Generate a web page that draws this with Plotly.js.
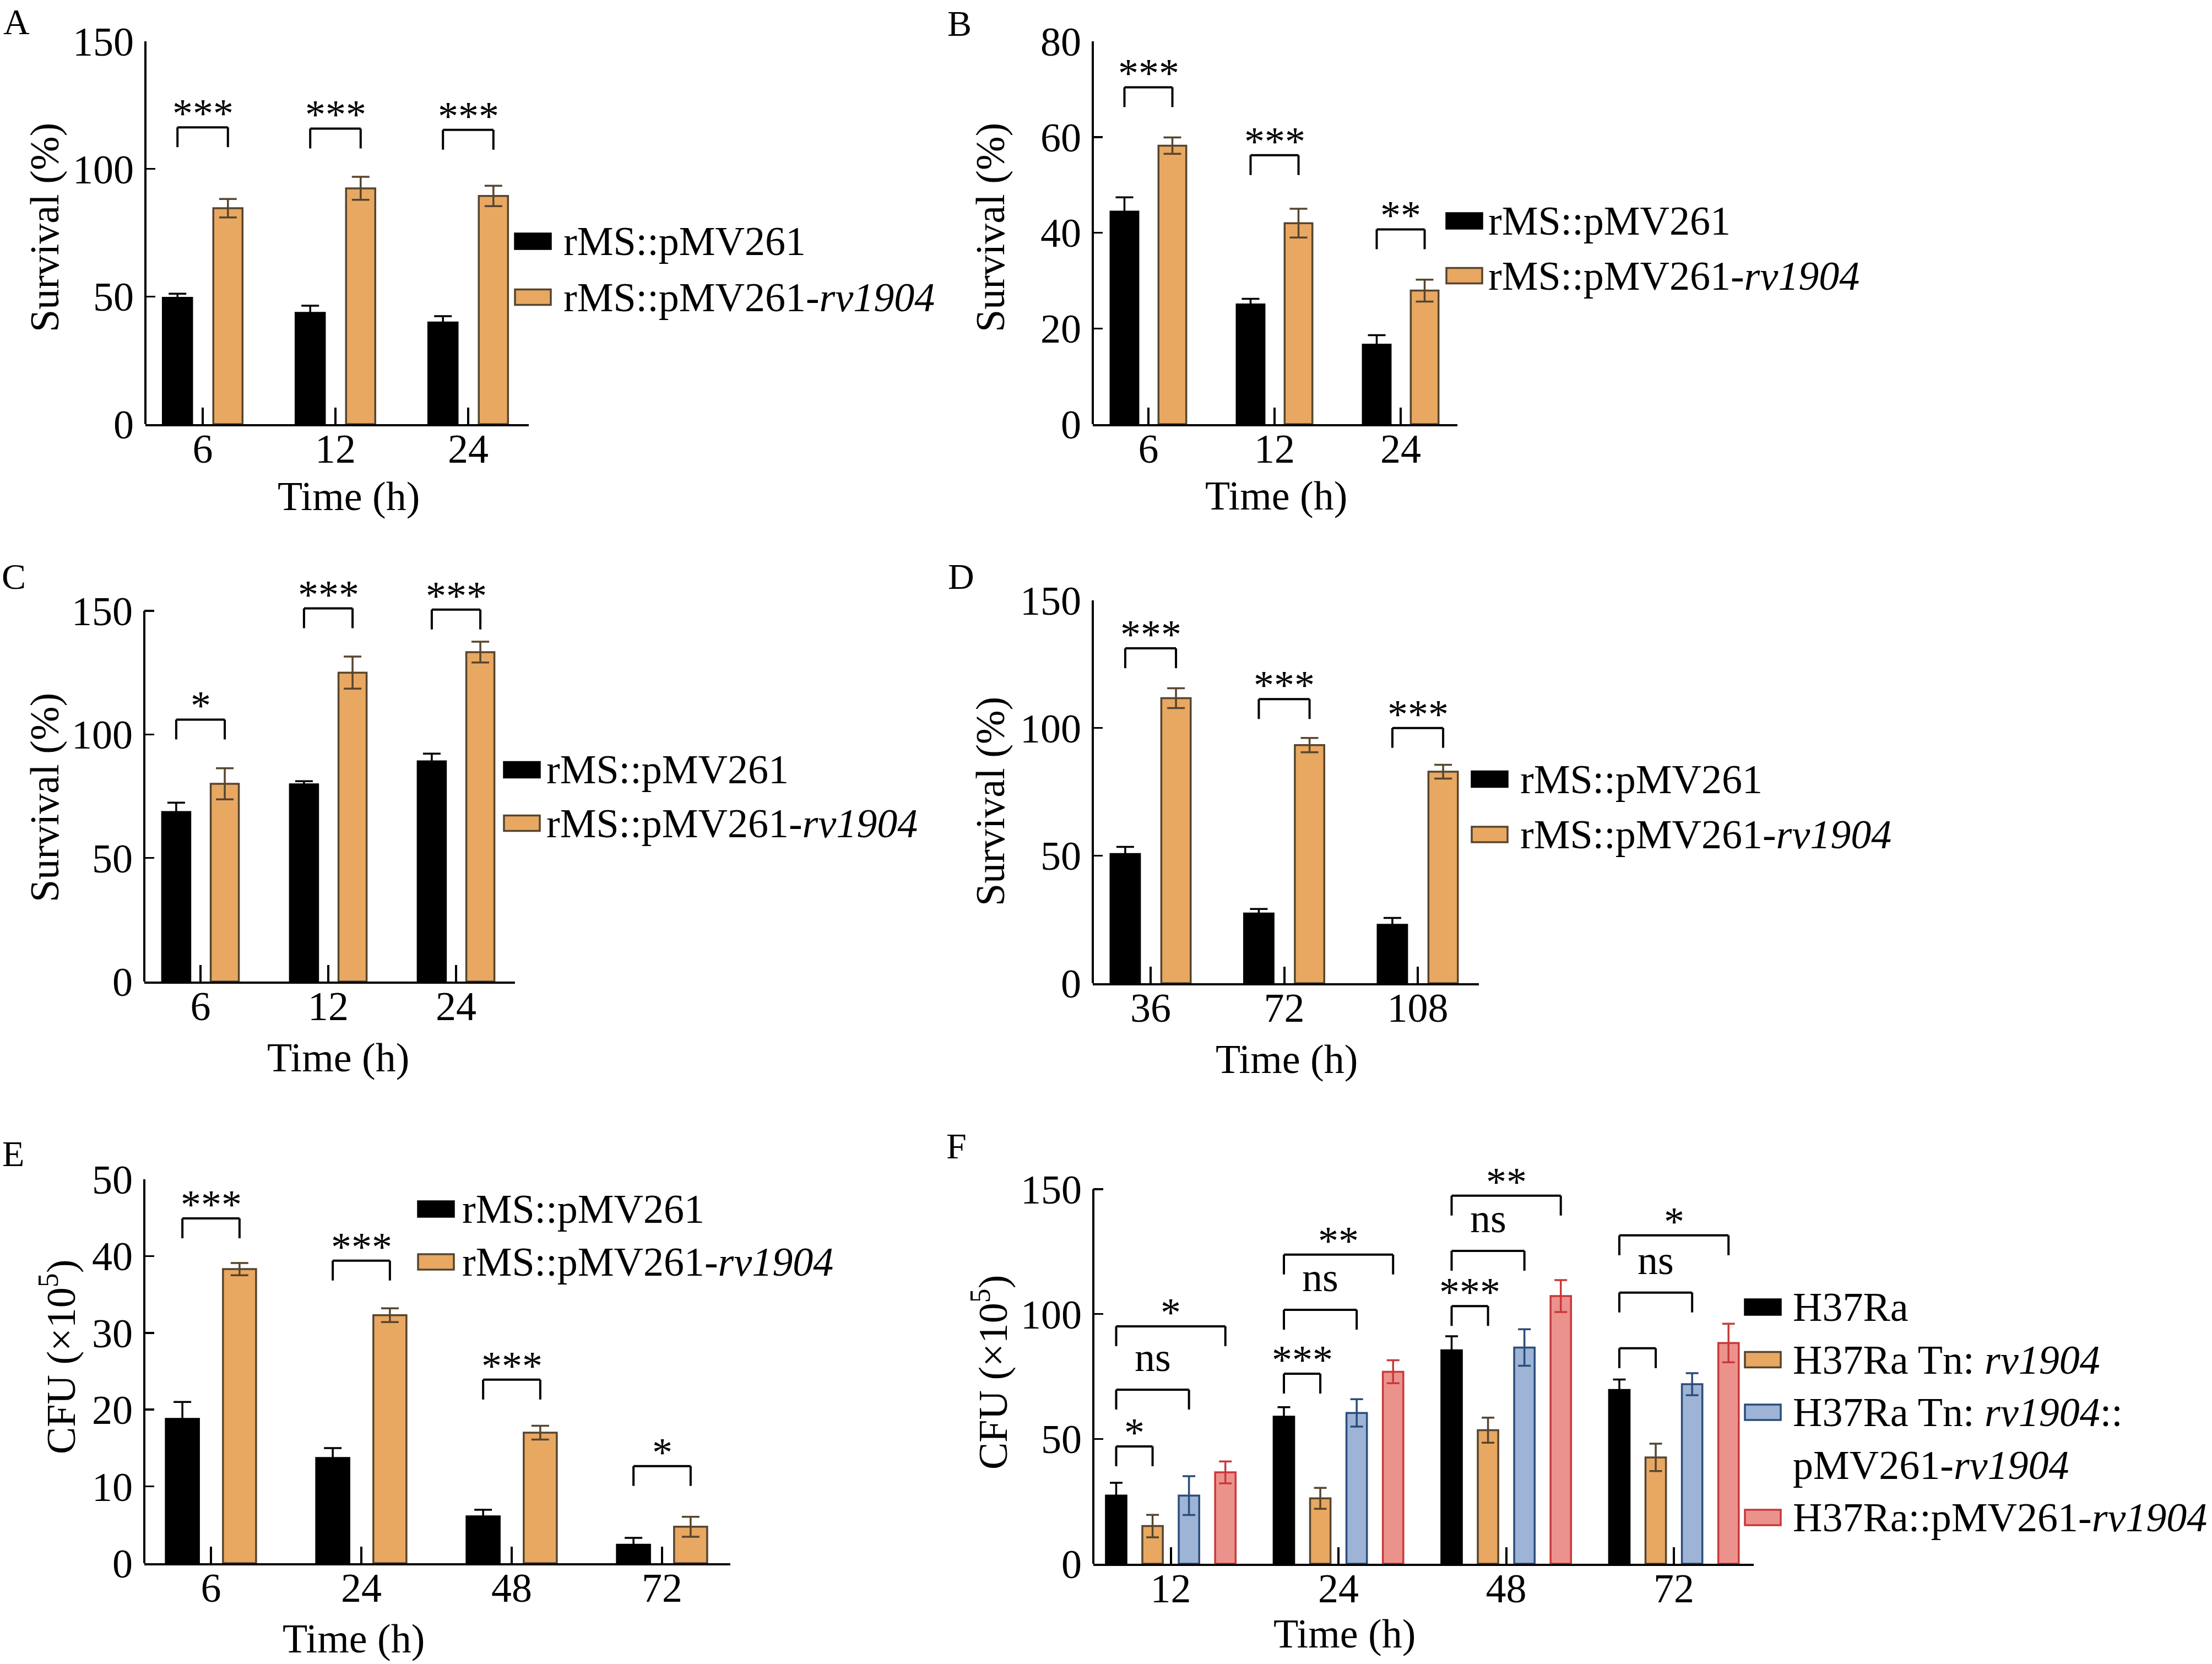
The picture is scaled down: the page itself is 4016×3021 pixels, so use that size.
<!DOCTYPE html>
<html>
<head>
<meta charset="utf-8">
<script src="https://cdn.plot.ly/plotly-3.0.1.min.js"></script>
<style>
  body { margin: 0; background: white; }
  #chart { width: 4016px; height: 3021px; }
</style>
</head>
<body>
<div id="chart"></div>
<script>
// values
var rms_names = ['rMS::pMV261', 'rMS::pMV261-<i>rv1904</i>']
var h37_names = ['H37Ra', 'H37Ra Tn: <i>rv1904</i>', 'H37Ra Tn: <i>rv1904</i>::<br>pMV261-<i>rv1904</i>', 'H37Ra::pMV261-<i>rv1904</i>']

var a_times = ['6', '12', '24']
var a_ctrl = [49.5, 43.6, 39.8]
var a_ctrl_err = [1.6, 2.8, 2.5]
var a_rv = [84.6, 92.4, 89.4]
var a_rv_err = [3.6, 4.5, 4.0]
var a_sig_top = [116.3, 115.8, 115.3]
var a_sig = ['***', '***', '***']

var b_times = ['6', '12', '24']
var b_ctrl = [44.4, 25.0, 16.6]
var b_ctrl_err = [3.0, 1.2, 2.0]
var b_rv = [58.2, 42.0, 27.9]
var b_rv_err = [1.7, 3.0, 2.3]
var b_sig_top = [70.4, 56.2, 40.7]
var b_sig = ['***', '***', '**']

var c_times = ['6', '12', '24']
var c_ctrl = [68.6, 79.8, 89.1]
var c_ctrl_err = [3.8, 1.3, 3.1]
var c_rv = [80.0, 125.0, 133.3]
var c_rv_err = [6.3, 6.5, 4.2]
var c_sig_top = [106.0, 151.0, 150.5]
var c_sig = ['*', '***', '***']

var d_times = ['36', '72', '108']
var d_ctrl = [50.6, 27.3, 22.9]
var d_ctrl_err = [2.8, 1.8, 2.7]
var d_rv = [111.7, 93.3, 82.9]
var d_rv_err = [3.9, 2.8, 2.7]
var d_sig_top = [131.2, 111.3, 100.0]
var d_sig = ['***', '***', '***']

var e_times = ['6', '24', '48', '72']
var e_ctrl = [18.8, 13.7, 6.1, 2.4]
var e_ctrl_err = [2.2, 1.3, 0.85, 0.9]
var e_rv = [38.3, 32.3, 17.0, 4.75]
var e_rv_err = [0.8, 0.9, 0.9, 1.3]
var e_sig_top = [44.9, 39.4, 23.9, 12.65]
var e_sig = ['***', '***', '***', '*']

var f_times = ['12', '24', '48', '72']
var f_wt = [27.3, 58.9, 85.5, 69.6]
var f_wt_err = [5.1, 3.8, 5.6, 4.2]
var f_tn = [15.1, 26.2, 53.5, 42.6]
var f_tn_err = [4.5, 4.2, 5.0, 5.5]
var f_comp = [27.3, 60.4, 86.6, 71.9]
var f_comp_err = [7.8, 5.5, 7.3, 4.4]
var f_oe = [36.6, 76.9, 107.2, 88.4]
var f_oe_err = [4.4, 4.6, 6.4, 7.7]
var f_sig_cat = [0, 0, 0, 1, 1, 1, 2, 2, 2, 3, 3, 3]
var f_sig_to = [1, 2, 3, 1, 2, 3, 1, 2, 3, 1, 2, 3]
var f_sig_top = [47.0, 69.7, 95.1, 76.1, 101.7, 123.8, 103.2, 125.3, 147.4, 86.3, 108.6, 131.5]
var f_sig = ['*', 'ns', '*', '***', 'ns', '**', '***', 'ns', '**', '', 'ns', '*']

var fills = ['#000000', '#E8A862', '#9DB4D6', '#EC928D']
var edges = ['#000000', '#56452F', '#2B4D7B', '#C9393A']

var FONT = "'Liberation Serif', 'Times New Roman', serif"
var W = 4016, H = 3021

function px(x) { return x / W }
function py(y) { return 1 - y / H }

function pairs(n) {
    var out = []
    for (i=0; i<n; i++) out.push(i)
    return out
}

// geometry in page pixels: x0/x1 axis ends, c0 first category, cw category step,
// y0 zero line, yt top tick, yext range top
var panels = [
    {letter: 'A', lpos: [30, 40], cats: a_times, series: [a_ctrl, a_rv], errs: [a_ctrl_err, a_rv_err], names: rms_names,
     sig_cat: pairs(3), sig_to: [1, 1, 1], sig_top: a_sig_top, sig: a_sig,
     ytitle: 'Survival (%)', yticks: [0, 50, 100, 150], ymax: 150, yext: 150,
     x0: 264, x1: 960, c0: 368, cw: 241, y0: 770, yt: 75, step: 0.38, barw: 0.22, cap: 16,
     ytpos: [81, 413], xtpos: [633, 901], leg: [935, 438, 101.5, 1021]},
    {letter: 'B', lpos: [1742, 43], cats: b_times, series: [b_ctrl, b_rv], errs: [b_ctrl_err, b_rv_err], names: rms_names,
     sig_cat: pairs(3), sig_to: [1, 1, 1], sig_top: b_sig_top, sig: b_sig,
     ytitle: 'Survival (%)', yticks: [0, 20, 40, 60, 80], ymax: 80, yext: 80,
     x0: 1984, x1: 2646, c0: 2085, cw: 229, y0: 770, yt: 75, step: 0.38, barw: 0.22, cap: 16,
     ytpos: [1798, 413], xtpos: [2317, 900], leg: [2626, 401, 99.5, 2700]},
    {letter: 'C', lpos: [25, 1046], cats: c_times, series: [c_ctrl, c_rv], errs: [c_ctrl_err, c_rv_err], names: rms_names,
     sig_cat: pairs(3), sig_to: [1, 1, 1], sig_top: c_sig_top, sig: c_sig,
     ytitle: 'Survival (%)', yticks: [0, 50, 100, 150], ymax: 150, yext: 165,
     x0: 262, x1: 935, c0: 364, cw: 232, y0: 1782, yt: 1109, step: 0.38, barw: 0.22, cap: 16,
     ytpos: [81, 1448], xtpos: [614, 1920], leg: [915, 1397.5, 97, 990]},
    {letter: 'D', lpos: [1745, 1046], cats: d_times, series: [d_ctrl, d_rv], errs: [d_ctrl_err, d_rv_err], names: rms_names,
     sig_cat: pairs(3), sig_to: [1, 1, 1], sig_top: d_sig_top, sig: d_sig,
     ytitle: 'Survival (%)', yticks: [0, 50, 100, 150], ymax: 150, yext: 150,
     x0: 1984, x1: 2685, c0: 2089, cw: 242.5, y0: 1785, yt: 1090, step: 0.38, barw: 0.22, cap: 16,
     ytpos: [1798, 1455], xtpos: [2336, 1923], leg: [2672, 1414.5, 100.5, 2758]},
    {letter: 'E', lpos: [24, 2094], cats: e_times, series: [e_ctrl, e_rv], errs: [e_ctrl_err, e_rv_err], names: rms_names,
     sig_cat: pairs(4), sig_to: [1, 1, 1, 1], sig_top: e_sig_top, sig: e_sig,
     ytitle: 'CFU (×10<sup>5</sup>)', yticks: [0, 10, 20, 30, 40, 50], ymax: 50, yext: 50,
     x0: 262, x1: 1326, c0: 383, cw: 273, y0: 2838, yt: 2141, step: 0.38, barw: 0.22, cap: 16,
     ytpos: [105, 2464], xtpos: [642, 2975], leg: [759, 2195, 96, 837]},
    {letter: 'F', lpos: [1736, 2080], cats: f_times, series: [f_wt, f_tn, f_comp, f_oe], errs: [f_wt_err, f_tn_err, f_comp_err, f_oe_err], names: h37_names,
     sig_cat: f_sig_cat, sig_to: f_sig_to, sig_top: f_sig_top, sig: f_sig,
     ytitle: 'CFU (×10<sup>5</sup>)', yticks: [0, 50, 100, 150], ymax: 150, yext: 165,
     x0: 1985, x1: 3184, c0: 2125.6, cw: 304.5, y0: 2839, yt: 2159, step: 0.217, barw: 0.122, cap: 11.5,
     ytpos: [1797, 2492], xtpos: [2441, 2966], leg: [3168, 2373, 95.5, 3253]}
]

var data = [], shapes = [], annotations = []
var layout = {
    width: W,
    height: H,
    margin: {l: 0, r: 0, t: 0, b: 0},
    paper_bgcolor: 'white',
    plot_bgcolor: 'rgba(0,0,0,0)',
    font: {family: FONT, size: 74, color: 'black'},
    showlegend: false,
    barmode: 'overlay',
}

function text_note(x, y, text, extra) {
    var a = {xref: 'paper', yref: 'paper', x: px(x), y: py(y), text: text, showarrow: false,
             font: {family: FONT, size: 74, color: 'black'}}
    for (var key in extra) a[key] = extra[key]
    annotations.push(a)
}

panels.forEach(function(p, k) {
    var suffix = k ? String(k + 1) : ''
    var xa = 'x' + suffix, ya = 'y' + suffix
    var scale = (p.y0 - p.yt) / p.ymax
    var ns = p.series.length

    layout['xaxis' + suffix] = {
        type: 'category',
        domain: [px(p.x0), px(p.x1)],
        range: [(p.x0 - p.c0) / p.cw, (p.x1 - p.c0) / p.cw],
        anchor: ya,
        showline: true, linewidth: 3.5, linecolor: 'black',
        ticks: 'inside', ticklen: 30, tickwidth: 4, tickcolor: 'black',
        tickfont: {family: FONT, size: 74, color: 'black'},
        ticklabelstandoff: -22,
        showgrid: false, zeroline: false, fixedrange: true,
    }
    layout['yaxis' + suffix] = {
        domain: [py(p.y0), py(p.y0 - p.yext * scale)],
        range: [0, p.yext],
        anchor: xa,
        showline: false,
        tickmode: 'array', tickvals: p.yticks,
        ticks: 'inside', ticklen: 18, tickwidth: 3.5, tickcolor: 'black',
        tickfont: {family: FONT, size: 74, color: 'black'},
        ticklabelstandoff: 20,
        showgrid: false, zeroline: false, fixedrange: true,
    }
    // y axis line stops at the top tick
    shapes.push({type: 'line', xref: xa + ' domain', yref: ya, x0: 0, x1: 0, y0: 0, y1: p.ymax,
                 line: {color: 'black', width: 4}})

    function center(s) { return (s - (ns - 1) / 2) * p.step }

    p.series.forEach(function(vals, s) {
        data.push({
            type: 'bar',
            x: p.cats,
            y: vals,
            xaxis: xa,
            yaxis: ya,
            width: p.barw,
            offset: center(s) - p.barw / 2,
            marker: {color: fills[s], line: {color: edges[s], width: 3.5}},
            error_y: {type: 'data', array: p.errs[s], color: edges[s], thickness: 3.5, width: p.cap},
            hoverinfo: 'skip',
        })
    })

    // significance brackets
    var leg = 36 / scale
    p.sig_top.forEach(function(top, j) {
        var c = p.sig_cat[j]
        var xl = c + center(0), xr = c + center(p.sig_to[j])
        var segs = [[xl, top - leg, xl, top], [xl, top, xr, top], [xr, top, xr, top - leg]]
        segs.forEach(function(sg) {
            shapes.push({type: 'line', xref: xa, yref: ya, x0: sg[0], y0: sg[1], x1: sg[2], y1: sg[3],
                         line: {color: 'black', width: 4}})
        })
        if (p.sig[j]) {
            annotations.push({xref: xa, yref: ya, x: (xl + xr) / 2, y: top, yanchor: 'bottom',
                              text: p.sig[j], showarrow: false, yshift: p.sig[j] == 'ns' ? 16 : -18,
                              font: {family: FONT, size: 74, color: 'black'}})
        }
    })

    // legend drawn by hand so the swatches match the figure
    var row = 0
    p.names.forEach(function(name, s) {
        var cy = p.leg[1] + row * p.leg[2]
        shapes.push({type: 'rect', xref: 'paper', yref: 'paper',
                     x0: px(p.leg[0]), x1: px(p.leg[0] + 65), y0: py(cy + 14), y1: py(cy - 14),
                     fillcolor: fills[s], line: {color: edges[s], width: 3.5}})
        name.split('<br>').forEach(function(line) {
            text_note(p.leg[3], p.leg[1] + row * p.leg[2], line, {xanchor: 'left', yanchor: 'middle'})
            row++
        })
    })

    text_note(p.ytpos[0], p.ytpos[1], p.ytitle, {textangle: -90, xanchor: 'center', yanchor: 'middle'})
    text_note(p.xtpos[0], p.xtpos[1], 'Time (h)', {xanchor: 'center', yanchor: 'middle'})
    text_note(p.lpos[0], p.lpos[1], p.letter, {xanchor: 'center', yanchor: 'middle', font: {family: FONT, size: 66, color: 'black'}})
})

layout.shapes = shapes
layout.annotations = annotations

Plotly.newPlot('chart', data, layout, {displayModeBar: false, staticPlot: true});
</script>
</body>
</html>
